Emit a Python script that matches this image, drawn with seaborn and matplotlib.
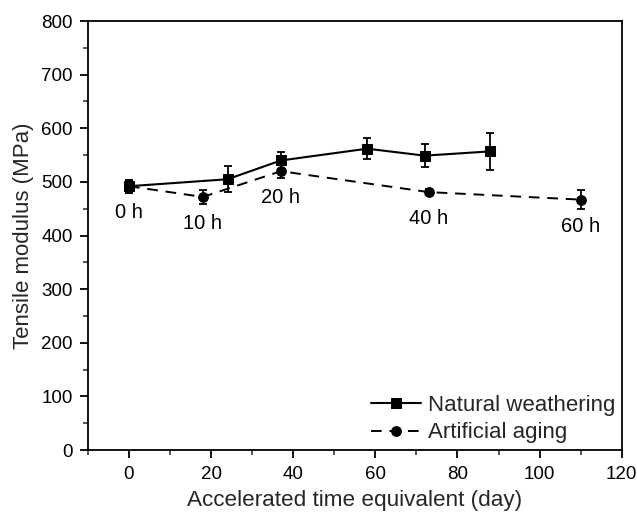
import matplotlib
matplotlib.use("Agg")
import matplotlib.pyplot as plt
import seaborn as sns
import pandas as pd
from matplotlib.ticker import MultipleLocator

# Data
nat_days = [0, 24, 37, 58, 72, 88]
nat_mod = [492, 505, 540, 562, 549, 557]
nat_err = [12, 24, 15, 20, 22, 35]

art_days = [0, 18, 37, 73, 110]
art_mod = [492, 472, 520, 481, 467]
art_err = [12, 13, 12, 6, 18]
art_labels = ["0 h", "10 h", "20 h", "40 h", "60 h"]

sns.set_style("ticks")
plt.rcParams['font.family'] = ['Liberation Sans', 'DejaVu Sans']

fig = plt.figure(figsize=(6.37, 5.14), dpi=100)
ax = fig.add_axes([0.138, 0.1245, 0.838, 0.8345])

df_nat = pd.DataFrame({"day": nat_days, "mod": nat_mod})
df_art = pd.DataFrame({"day": art_days, "mod": art_mod})

sns.lineplot(data=df_nat, x="day", y="mod", ax=ax, color="black", lw=1.5,
             marker="s", markersize=7, markeredgecolor="black",
             label="Natural weathering")
sns.lineplot(data=df_art, x="day", y="mod", ax=ax, color="black", lw=1.4,
             linestyle=(0, (5.5, 4)), marker="o", markersize=7,
             markeredgecolor="black", label="Artificial aging")

ax.errorbar(nat_days, nat_mod, yerr=nat_err, fmt="none", ecolor="black",
            elinewidth=1.3, capsize=3, capthick=1.3)
ax.errorbar(art_days, art_mod, yerr=art_err, fmt="none", ecolor="black",
            elinewidth=1.3, capsize=3, capthick=1.3)

for x, y, t in zip(art_days, art_mod, art_labels):
    ax.annotate(t, (x, y), xytext=(0, -19), textcoords="offset points",
                ha="center", va="center", fontsize=14.5, color="black")

ax.set_xlim(-10, 120)
ax.set_ylim(0, 800)
ax.xaxis.set_major_locator(MultipleLocator(20))
ax.xaxis.set_minor_locator(MultipleLocator(10))
ax.yaxis.set_major_locator(MultipleLocator(100))
ax.yaxis.set_minor_locator(MultipleLocator(50))
ax.tick_params(axis="both", which="major", direction="out", length=5.8,
               width=1.3, labelsize=13.5, colors="black", pad=5)
ax.tick_params(axis="x", which="major", pad=6)
ax.tick_params(axis="both", which="minor", direction="out", length=3.6,
               width=1.1)
for s in ax.spines.values():
    s.set_visible(True)
    s.set_linewidth(1.3)
    s.set_color("black")

ax.set_xlabel("Accelerated time equivalent (day)", fontsize=16.2, labelpad=5)
ax.set_ylabel("Tensile modulus (MPa)", fontsize=16, labelpad=5)

leg = ax.legend(loc="lower right", frameon=False, fontsize=16,
                handlelength=2.25, borderaxespad=0.0, borderpad=0.3,
                labelspacing=0.3, handletextpad=0.3)

fig.savefig("out.png", dpi=100)
